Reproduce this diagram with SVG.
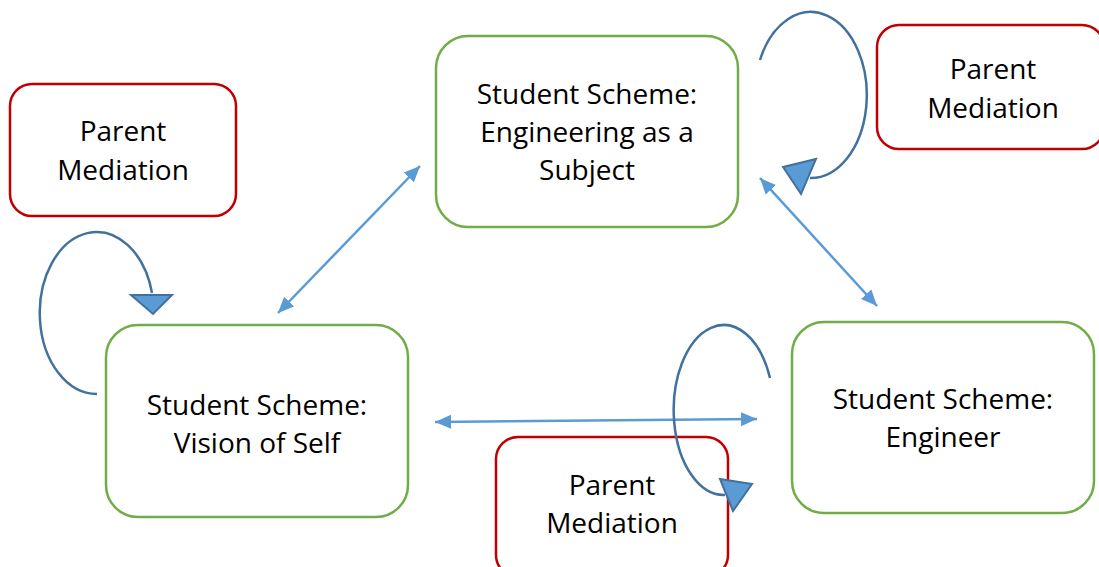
<svg xmlns="http://www.w3.org/2000/svg" width="1099" height="567" viewBox="0 0 1099 567">
<style>
.green{fill:#fff;stroke:#70AD47;stroke-width:2.5}
.red{fill:#fff;stroke:#C00000;stroke-width:2.5}
.t{font-family:"Open Sans","Noto Sans",sans-serif;font-size:28px;fill:#000;text-anchor:middle}
.link{stroke:#5B9BD5;stroke-width:2.5;fill:none;marker-start:url(#ah);marker-end:url(#ah)}
.loop{stroke:#41719C;stroke-width:2.5;fill:none}
.head{fill:#5B9BD5;stroke:#41719C;stroke-width:2;stroke-linejoin:miter}
</style>
<defs>
<marker id="ah" markerUnits="userSpaceOnUse" markerWidth="18" markerHeight="16" refX="16" refY="7" orient="auto-start-reverse" viewBox="0 0 18 14">
<path d="M0,0 L16,7 L0,14 Z" fill="#5B9BD5"/>
</marker>
</defs>
<rect width="1099" height="567" fill="#fff"/>
<g id="parent1">
<rect class="red" x="10" y="84" width="226" height="132" rx="22"/>
<text class="t" x="123" y="141">Parent</text>
<text class="t" x="123" y="180">Mediation</text>
</g>
<g id="parent2">
<rect class="red" x="877" y="25" width="227" height="124" rx="22"/>
<text class="t" x="993" y="79">Parent</text>
<text class="t" x="993" y="118">Mediation</text>
</g>
<g id="parent3">
<rect class="red" x="496" y="437" width="232" height="140" rx="22"/>
<text class="t" x="612" y="495">Parent</text>
<text class="t" x="612" y="533">Mediation</text>
</g>
<g id="subject">
<rect class="green" x="436" y="36" width="302" height="191" rx="32"/>
<text class="t" x="587" y="104">Student Scheme:</text>
<text class="t" x="587" y="142">Engineering as a</text>
<text class="t" x="587" y="180">Subject</text>
</g>
<g id="self">
<rect class="green" x="106" y="325" width="302" height="192" rx="32"/>
<text class="t" x="257" y="415">Student Scheme:</text>
<text class="t" x="257" y="453">Vision of Self</text>
</g>
<g id="engineer">
<rect class="green" x="792" y="322" width="302" height="191" rx="32"/>
<text class="t" x="943" y="409">Student Scheme:</text>
<text class="t" x="943" y="447">Engineer</text>
</g>
<g id="connectors">
<line class="link" x1="278" y1="313" x2="420" y2="166"/>
<line class="link" x1="760" y1="178" x2="877" y2="306"/>
<line class="link" x1="435" y1="422" x2="757" y2="419"/>
<path class="loop" d="M97,394 A57,81 0 1 1 152,293"/>
<polygon class="head" points="131,295 172,295 153,314"/>
<path class="loop" d="M760,60 A56,83 0 1 1 810,178"/>
<polygon class="head" points="783,167 816,159 801,194"/>
<path class="loop" d="M770,378 A50,85 0 1 0 725,495"/>
<polygon class="head" points="720,479 752,484 733,511"/>
</g>
</svg>
